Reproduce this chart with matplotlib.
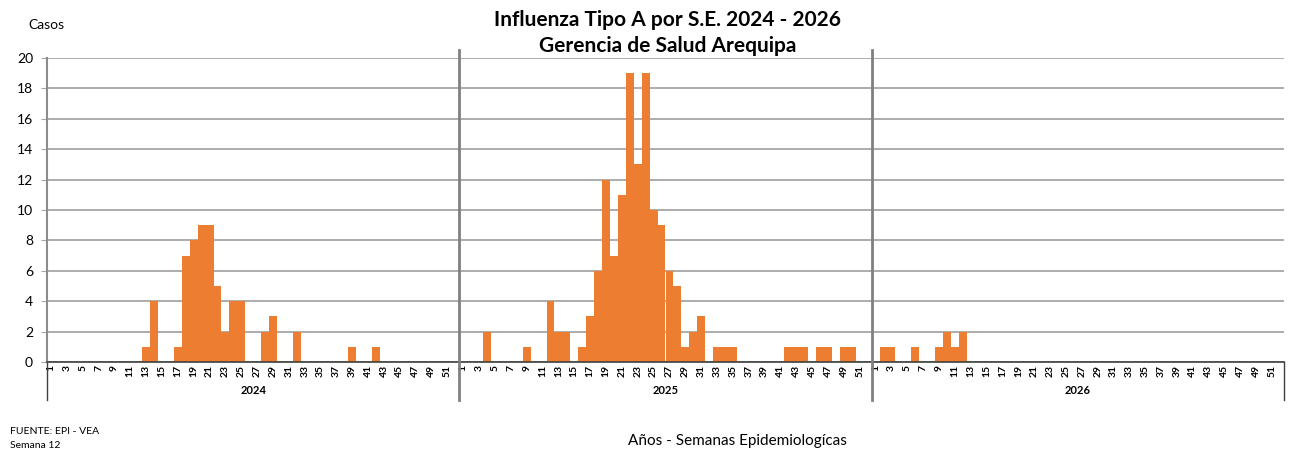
import numpy as np
import matplotlib.pyplot as plt
import matplotlib.transforms as mtransforms

plt.rcParams['font.family'] = ['Lato', 'DejaVu Sans']

years = ['2024', '2025', '2026']
n_weeks = 52  # weeks shown per year

# cases per epidemiological week (weeks not listed are 0)
cases_2024 = {13: 1, 14: 4, 17: 1, 18: 7, 19: 8, 20: 9, 21: 9, 22: 5, 23: 2,
              24: 4, 25: 4, 28: 2, 29: 3, 32: 2, 39: 1, 42: 1}
cases_2025 = {4: 2, 9: 1, 12: 4, 13: 2, 14: 2, 16: 1, 17: 3, 18: 6, 19: 12,
              20: 7, 21: 11, 22: 19, 23: 13, 24: 19, 25: 10, 26: 9, 27: 6,
              28: 5, 29: 1, 30: 2, 31: 3, 33: 1, 34: 1, 35: 1, 42: 1, 43: 1,
              44: 1, 46: 1, 47: 1, 49: 1, 50: 1}
cases_2026 = {2: 1, 3: 1, 6: 1, 9: 1, 10: 2, 11: 1, 12: 2}

values = []
for d in [cases_2024, cases_2025, cases_2026]:
    values += [d.get(w, 0) for w in range(1, n_weeks + 1)]
values = np.array(values)
x = np.arange(len(values))

fig = plt.figure(figsize=(12.9, 4.55), dpi=100)
ax = fig.add_axes([47/1290, 1 - 362/455, (1284 - 47)/1290, (362 - 58)/455])

ax.bar(x, values, width=1.0, color='#ED7D31', zorder=3)

ax.set_xlim(-0.5, len(values) - 0.5)
ax.set_ylim(0, 20)
ax.set_yticks(np.arange(0, 21, 2))
ax.yaxis.grid(True, color='#A6A6A6', linewidth=1.3, zorder=0)
ax.tick_params(axis='y', labelsize=10, length=4, color='#A6A6A6', pad=6)

# odd weeks labelled in each year
tick_pos = [i for i in x if (i % n_weeks) % 2 == 0]
tick_lab = [str(i % n_weeks + 1) for i in tick_pos]
ax.set_xticks(tick_pos)
ax.set_xticklabels(tick_lab, rotation=90, fontsize=7.5, fontweight='bold')
ax.tick_params(axis='x', length=0, pad=2)

for s in ['top', 'right']:
    ax.spines[s].set_visible(False)
ax.spines['left'].set_color('#8C8C8C')
ax.spines['left'].set_linewidth(1.5)
ax.spines['bottom'].set_color('#404040')
ax.spines['bottom'].set_linewidth(1.2)
ax.spines['bottom'].set_zorder(4)

# year separators and labels
trans = mtransforms.blended_transform_factory(ax.transData, ax.transAxes)
low = -38/304
for k in range(len(years)):
    ax.text(k*n_weeks + (n_weeks - 1)/2, -29/304, years[k], transform=trans,
            ha='center', va='center', fontsize=8, fontweight='bold')
for k in range(1, len(years)):
    ax.plot([k*n_weeks - 0.5]*2, [low, 1 + 8/304], transform=trans,
            color='#808080', linewidth=2, clip_on=False, zorder=5)
ax.plot([-0.5, -0.5], [low, 0], transform=trans, color='#404040',
        linewidth=1, clip_on=False)
ax.plot([len(values) - 0.5]*2, [low, 0], transform=trans, color='#404040',
        linewidth=1, clip_on=False)

fig.text(668/1290, 1 - 20/455, 'Influenza Tipo A por S.E. 2024 - 2026',
         ha='center', va='center', fontsize=15, fontweight='bold')
fig.text(668/1290, 1 - 46/455, 'Gerencia de Salud Arequipa',
         ha='center', va='center', fontsize=15, fontweight='bold')
fig.text(28/1290, 1 - 25/455, 'Casos', ha='left', va='center', fontsize=10)
fig.text(10/1290, 1 - 432/455, 'FUENTE: EPI - VEA', ha='left', va='center', fontsize=7.5)
fig.text(10/1290, 1 - 446/455, 'Semana 12', ha='left', va='center', fontsize=7.5)
fig.text(737/1290, 1 - 441/455, 'Años - Semanas Epidemiologícas',
         ha='center', va='center', fontsize=11)

fig.savefig('out.png', dpi=100)
